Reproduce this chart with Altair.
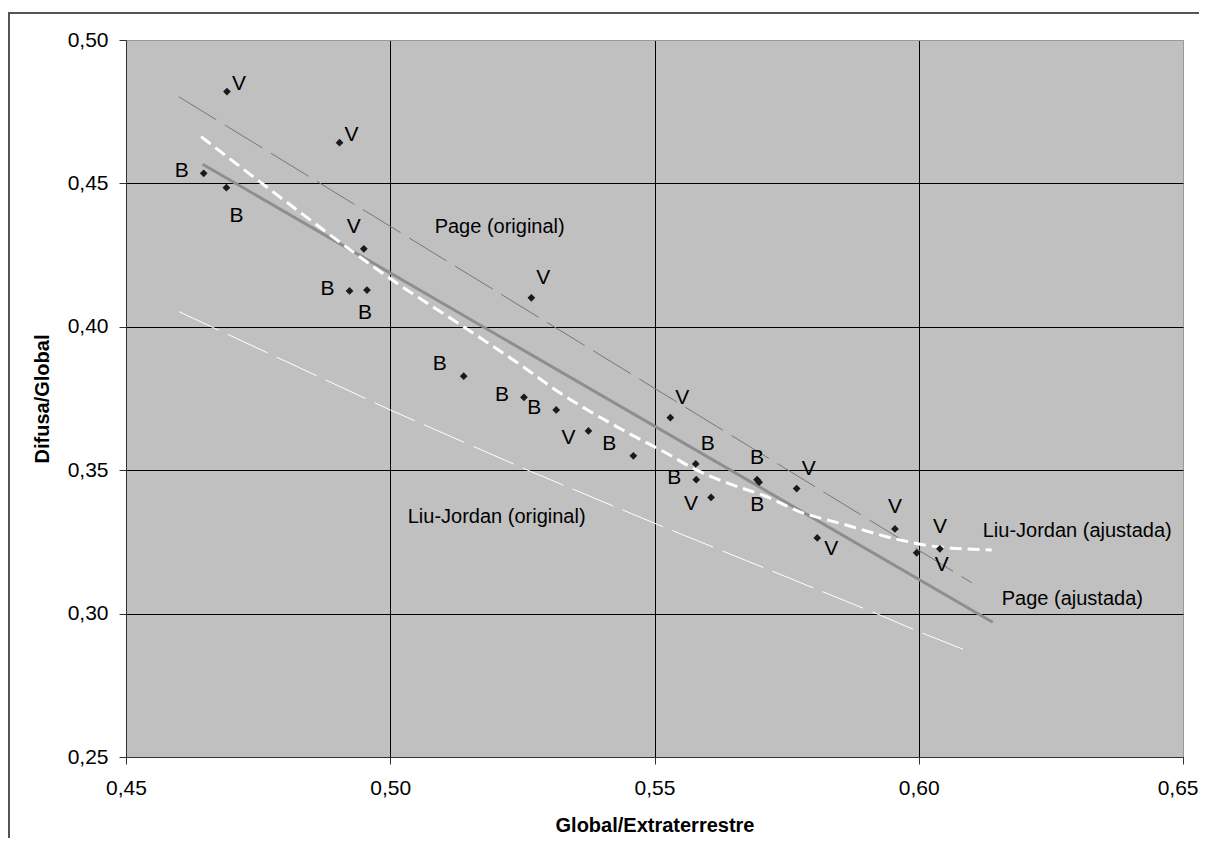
import altair as alt
import pandas as pd

# ---- measured points (Global/Extraterrestre, Difusa/Global) ----
pt_x = [0.4691, 0.4904, 0.4647, 0.4690, 0.4950, 0.4923, 0.4956, 0.5267, 0.5139, 0.5253,
        0.5314, 0.5375, 0.5460, 0.5530, 0.5578, 0.5579, 0.5607, 0.5694, 0.5698, 0.5769,
        0.5808, 0.5955, 0.5996, 0.6040]
pt_y = [0.4820, 0.4642, 0.4535, 0.4485, 0.4272, 0.4125, 0.4128, 0.4101, 0.3828, 0.3754,
        0.3710, 0.3637, 0.3550, 0.3683, 0.3522, 0.3467, 0.3405, 0.3467, 0.3458, 0.3436,
        0.3264, 0.3295, 0.3212, 0.3226]
pt_lab = ["V", "V", "B", "B", "V", "B", "B", "V", "B", "B",
          "B", "V", "B", "V", "B", "B", "V", "B", "B", "V",
          "V", "V", "V", "V"]
# label placement code relative to its point
pt_pos = ["ur", "ur", "l", "br", "al", "l", "b", "ar", "ul", "l",
          "l", "ll", "ul", "ar", "ar", "l", "ll", "a", "b", "ar",
          "lr", "a", "lr2", "a"]

# ---- curves ----
po_x = [0.460, 0.610]            # Page (original)
po_y = [0.4802, 0.3108]
pa_x = [0.4645, 0.6140]          # Page (ajustada)
pa_y = [0.4567, 0.2970]
ljo_x = [0.460, 0.500, 0.526, 0.550, 0.592, 0.600, 0.610]   # Liu-Jordan (original)
ljo_y = [0.4053, 0.3710, 0.3500, 0.3315, 0.3000, 0.2937, 0.2864]
lja_x = [0.4642, 0.4753, 0.4828, 0.4929, 0.4999, 0.5119, 0.5251, 0.5308, 0.5440, 0.5523,
         0.5579, 0.5649, 0.5712, 0.5775, 0.5851, 0.5964, 0.6034, 0.6138]   # Liu-Jordan (ajustada)
lja_y = [0.4663, 0.4506, 0.4401, 0.4262, 0.4169, 0.4024, 0.3861, 0.3786, 0.3640, 0.3559,
         0.3501, 0.3448, 0.3408, 0.3355, 0.3315, 0.3257, 0.3233, 0.3222]

# ---- annotations ----
ann_text = ["Page (original)", "Liu-Jordan (original)", "Liu-Jordan (ajustada)", "Page (ajustada)"]
ann_x = [0.5084, 0.5033, 0.6121, 0.6157]
ann_y = [0.4348, 0.3338, 0.3289, 0.3050]

x_ticks = [0.45, 0.50, 0.55, 0.60, 0.65]
y_ticks = [0.25, 0.30, 0.35, 0.40, 0.45, 0.50]

FONT = "Liberation Sans"
W, H = 1057, 717
PAD_R, PAD_B = 16, 81

pts = pd.DataFrame({"x": pt_x, "y": pt_y, "lab": pt_lab, "pos": pt_pos})
ann = pd.DataFrame({"x": ann_x, "y": ann_y, "t": ann_text})
frame = pd.DataFrame({"k": [0]})


def line_df(xs, ys):
    return pd.DataFrame({"x": xs, "y": ys, "o": list(range(len(xs)))})


xscale = alt.Scale(domain=[0.45, 0.65], nice=False, zero=False)
yscale = alt.Scale(domain=[0.25, 0.50], nice=False, zero=False)

label_expr = "replace(format(datum.value, '.2f'), '.', ',')"

x_axis = alt.Axis(
    values=x_ticks, labelExpr=label_expr, title="Global/Extraterrestre",
    titleFont=FONT, titleFontSize=20, titleFontWeight="bold", titleColor="#000000",
    titleX=W / 2, titleY=68, titleBaseline="middle", titleAlign="center",
    labelFont=FONT, labelFontSize=21, labelColor="#000000", labelBaseline="middle",
    labelAlign={"condition": {"test": "datum.value >= 0.6499", "value": "right"}, "value": "center"},
    labelOffset={"condition": {"test": "datum.value >= 0.6499", "value": 15}, "value": 0},
    labelPadding=24, tickSize=7, tickColor="#333333", domainColor="#333333",
    grid=True, gridWidth=1,
    gridColor={"condition": {"test": "datum.value >= 0.6499", "value": "#999999"}, "value": "#000000"},
    labelFlush=False, labelOverlap=False,
)
y_axis = alt.Axis(
    values=y_ticks, labelExpr=label_expr, title="Difusa/Global",
    titleFont=FONT, titleFontSize=20, titleFontWeight="bold", titleColor="#000000",
    titleX=-84, titleY=H / 2, titleAngle=270, titleBaseline="middle", titleAlign="center",
    labelFont=FONT, labelFontSize=21, labelColor="#000000", labelBaseline="middle",
    labelPadding=11, tickSize=7, tickColor="#333333", domainColor="#333333",
    grid=True, gridWidth=1,
    gridColor={"condition": {"test": "datum.value >= 0.4999", "value": "#999999"}, "value": "#000000"},
    labelFlush=False, labelOverlap=False,
)

X = alt.X("x:Q", scale=xscale, axis=x_axis)
Y = alt.Y("y:Q", scale=yscale, axis=y_axis)

page_orig = alt.Chart(line_df(po_x, po_y)).mark_line(
    color="#777777", strokeWidth=1, strokeDash=[44, 10]
).encode(x=X, y=Y, order="o:Q")

lj_orig = alt.Chart(line_df(ljo_x, ljo_y)).mark_line(
    color="#ffffff", strokeWidth=1, strokeDash=[44, 10]
).encode(x=X, y=Y, order="o:Q")

page_adj = alt.Chart(line_df(pa_x, pa_y)).mark_line(
    color="#8e8e8e", strokeWidth=3
).encode(x=X, y=Y, order="o:Q")

lj_adj = alt.Chart(line_df(lja_x, lja_y)).mark_line(
    color="#ffffff", strokeWidth=3, strokeDash=[12, 6], interpolate="monotone"
).encode(x=X, y=Y, order="o:Q")

points = alt.Chart(pts).mark_point(
    shape="diamond", filled=True, color="#1a1a1a", size=60, opacity=1
).encode(x=X, y=Y)

offsets = {
    "ur": (12, -8), "l": (-22, -2), "br": (10, 28), "al": (-10, -22),
    "b": (-2, 23), "ar": (12, -20), "ul": (-24, -12), "ll": (-20, 7),
    "a": (0, -22), "lr": (14, 11), "lr2": (25, 12),
}
label_layers = []
for code, (dx, dy) in offsets.items():
    label_layers.append(
        alt.Chart(pts).transform_filter(alt.datum.pos == code).mark_text(
            font=FONT, fontSize=21, color="#000000", dx=dx, dy=dy,
            align="center", baseline="middle"
        ).encode(x=X, y=Y, text="lab:N")
    )

annots = alt.Chart(ann).mark_text(
    font=FONT, fontSize=20, color="#000000", align="left", baseline="middle"
).encode(x=X, y=Y, text="t:N")

# outer chart frame (decorative): thin filled bars for its left and top edges
frame_left = alt.Chart(frame).mark_rect(color="#555555", strokeWidth=0).encode(
    x=alt.value(-118), x2=alt.value(-116), y=alt.value(-28), y2=alt.value(H + PAD_B)
)
frame_top = alt.Chart(frame).mark_rect(color="#555555", strokeWidth=0).encode(
    x=alt.value(-118), x2=alt.value(W + PAD_R), y=alt.value(-28), y2=alt.value(-26)
)

chart = alt.layer(
    page_orig, lj_orig, page_adj, lj_adj, points, *label_layers, annots,
    frame_left, frame_top
).properties(
    width=W, height=H,
    padding={"left": 118, "top": 32, "right": PAD_R, "bottom": PAD_B},
    autosize=alt.AutoSizeParams(type="none"),
    background="#ffffff",
).configure_view(
    fill="#c0c0c0", stroke="#999999", strokeWidth=1
)

chart.save("out.html", embed_options={"renderer": "svg", "actions": False})
